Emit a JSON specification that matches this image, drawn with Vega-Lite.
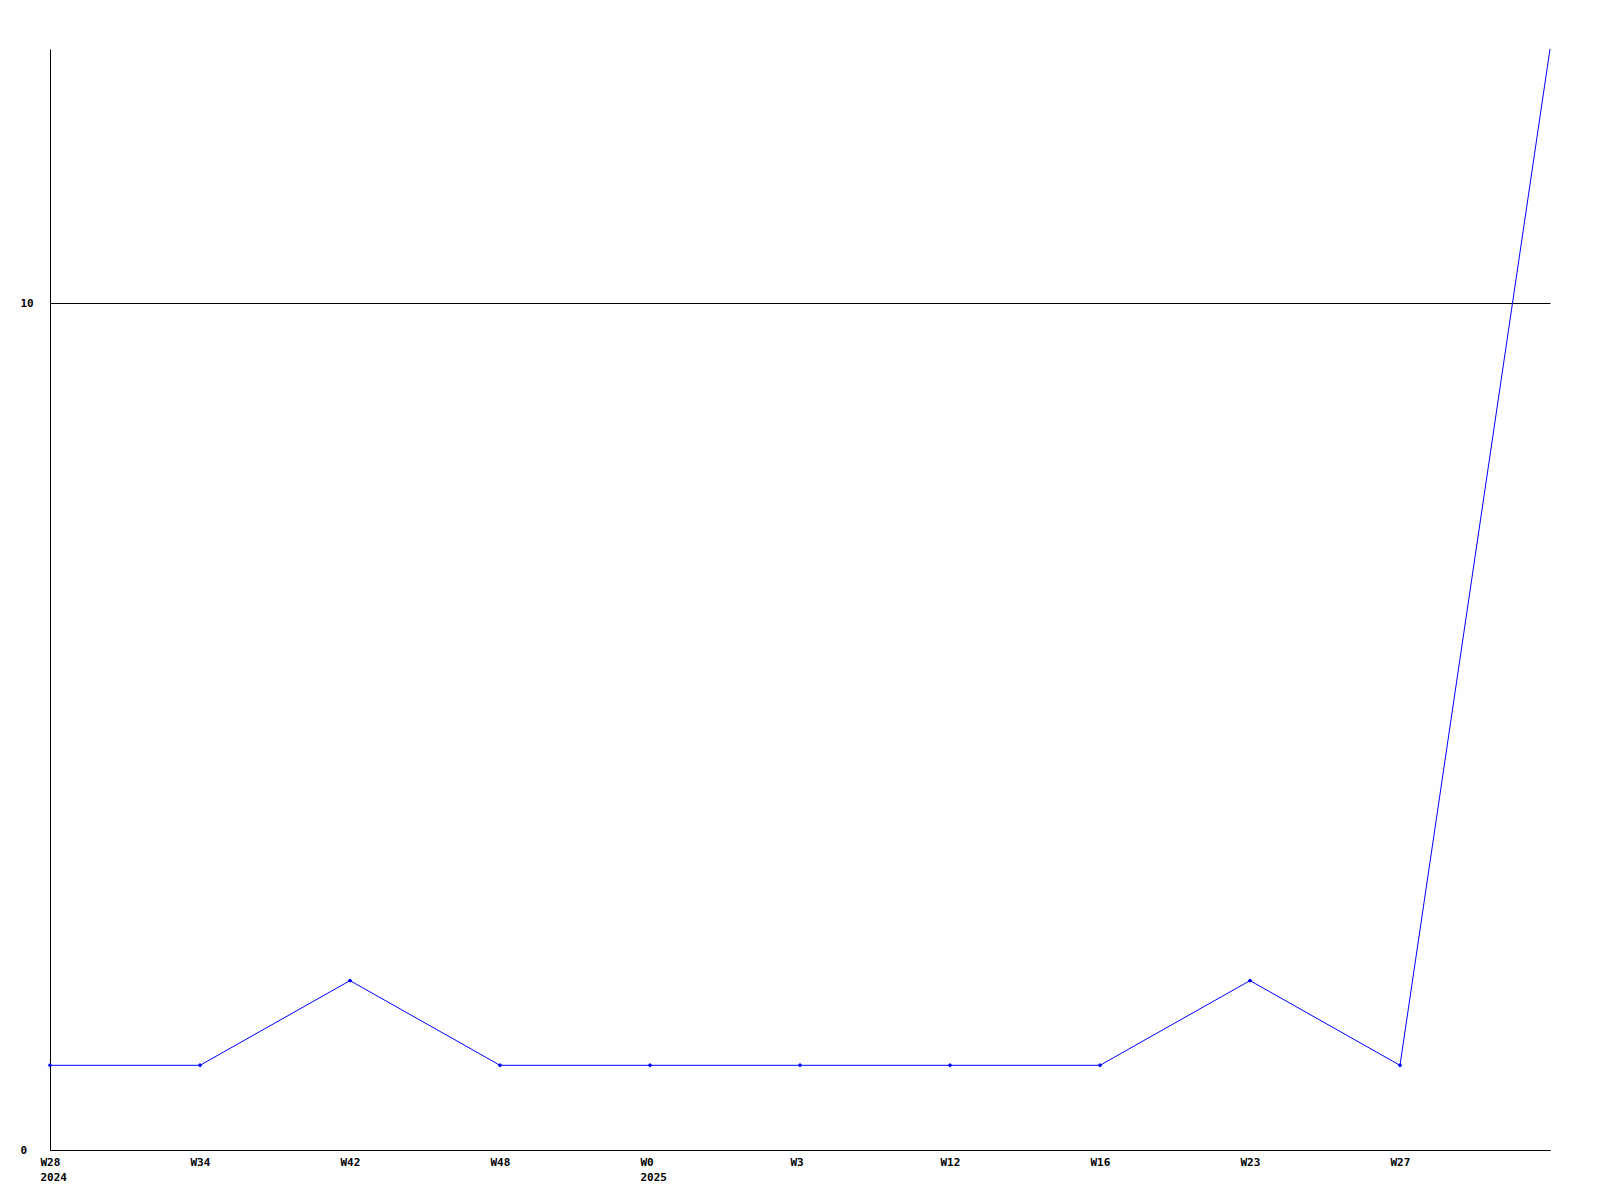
{
  "$schema": "https://vega.github.io/schema/vega-lite/v6.json",
  "width": 1500,
  "height": 1101,
  "autosize": {"type": "none"},
  "padding": {"left": 50, "top": 49, "right": 50, "bottom": 50},
  "background": "white",
  "config": {"view": {"stroke": null}},
  "data": {
    "values": [
      {"week": "W28|2024", "order": 1, "count": 1},
      {"week": "W34", "order": 2, "count": 1},
      {"week": "W42", "order": 3, "count": 2},
      {"week": "W48", "order": 4, "count": 1},
      {"week": "W0|2025", "order": 5, "count": 1},
      {"week": "W3", "order": 6, "count": 1},
      {"week": "W12", "order": 7, "count": 1},
      {"week": "W16", "order": 8, "count": 1},
      {"week": "W23", "order": 9, "count": 2},
      {"week": "W27", "order": 10, "count": 1},
      {"week": "W31", "order": 11, "count": 13}
    ]
  },
  "encoding": {
    "x": {
      "field": "week",
      "type": "ordinal",
      "sort": {"field": "order"},
      "scale": {"type": "point", "padding": 0},
      "axis": {
        "title": null,
        "values": ["W28|2024", "W34", "W42", "W48", "W0|2025", "W3", "W12", "W16", "W23", "W27"],
        "labelExpr": "split(datum.value, '|')",
        "labelAngle": 0,
        "labelAlign": "left",
        "labelOffset": -10,
        "labelBaseline": "top",
        "labelPadding": 6,
        "labelLineHeight": 15,
        "labelFont": "DejaVu Sans Mono",
        "labelFontWeight": "bold",
        "labelFontSize": 11,
        "labelColor": "black",
        "ticks": false,
        "domainColor": "black",
        "domainWidth": 1,
        "grid": false
      }
    },
    "y": {
      "field": "count",
      "type": "quantitative",
      "scale": {"domain": [0, 13], "nice": false},
      "axis": {
        "title": null,
        "values": [0, 10],
        "ticks": false,
        "labelAlign": "left",
        "labelPadding": 30,
        "labelFont": "DejaVu Sans Mono",
        "labelFontWeight": "bold",
        "labelFontSize": 11,
        "labelColor": "black",
        "domainColor": "black",
        "domainWidth": 1,
        "grid": true,
        "gridColor": "black",
        "gridOpacity": 1,
        "gridWidth": 1
      }
    }
  },
  "layer": [
    {"mark": {"type": "line", "color": "#0000ff", "strokeWidth": 1}},
    {
      "transform": [{"filter": "datum.order < 11"}],
      "mark": {"type": "point", "shape": "diamond", "filled": true, "color": "#0000ff", "size": 20, "opacity": 1}
    }
  ]
}
